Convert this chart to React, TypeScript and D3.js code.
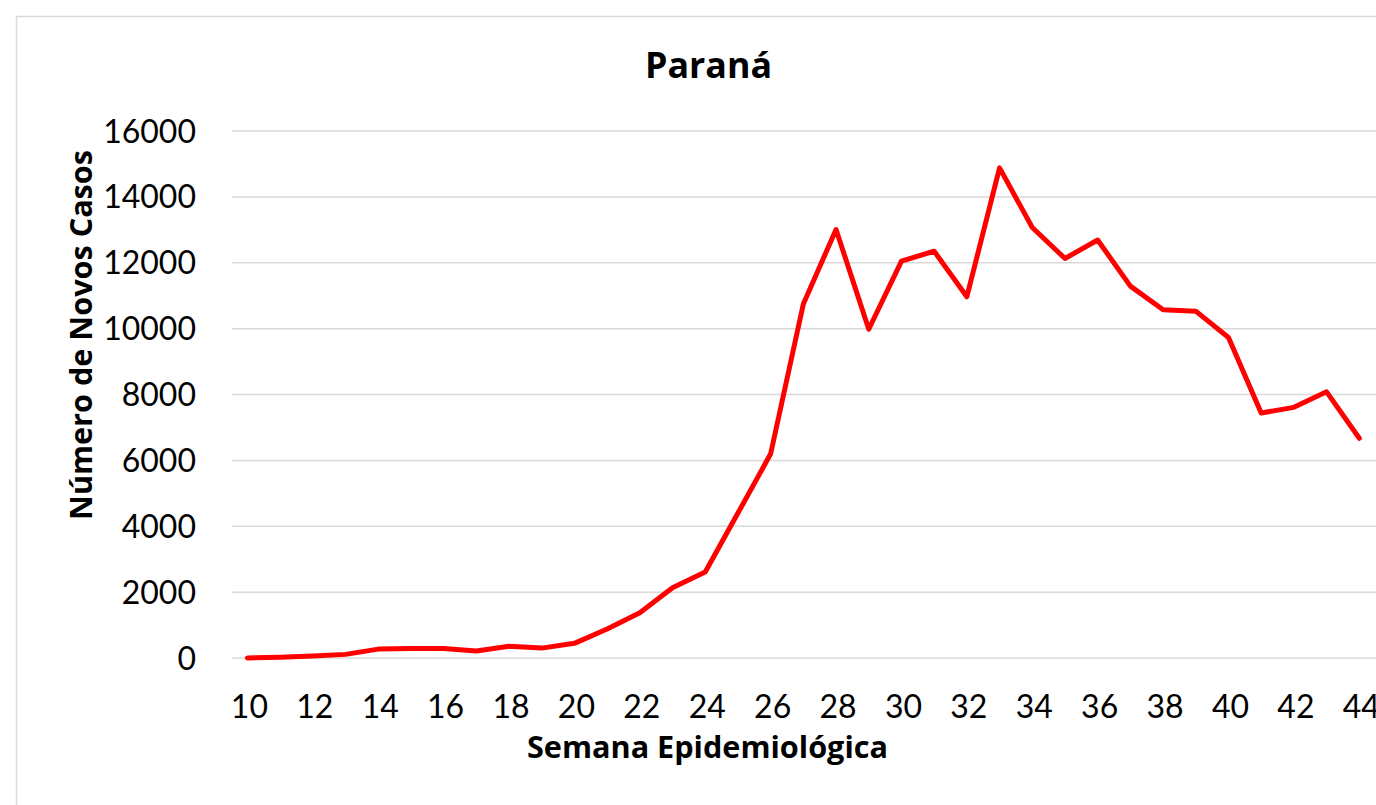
import React from "react";
import * as d3 from "d3";

const weeks = [10,11,12,13,14,15,16,17,18,19,20,21,22,23,24,25,26,27,28,29,30,31,32,33,34,35,36,37,38,39,40,41,42,43,44];
const cases = [0,20,60,110,270,285,285,210,355,300,445,880,1375,2135,2610,4400,6200,10750,13010,9980,12050,12350,10970,14880,13070,12130,12690,11290,10570,10530,9730,7440,7610,8080,6670];
const yTicks = [0,2000,4000,6000,8000,10000,12000,14000,16000];
const xTicks = [10,12,14,16,18,20,22,24,26,28,30,32,34,36,38,40,42,44];

const title = "Paraná";
const xTitle = "Semana Epidemiológica";
const yTitle = "Número de Novos Casos";

const W = 1376, H = 805;
const FONT = "Lato, 'Open Sans', sans-serif";
const BFONT = "'Open Sans', Lato, sans-serif";

export default function App() {
  const x = d3.scaleLinear().domain([10, 44]).range([247.4, 1359.3]);
  const y = d3.scaleLinear().domain([0, 16000]).range([658, 131]);
  const line = d3.line<number>()
    .x((_, i) => x(weeks[i]))
    .y((d) => y(d));
  return (
    <svg width={W} height={H} style={{ position: "absolute", left: 0, top: 0, background: "#fff" }}>
      <rect x={16.5} y={16.5} width={W + 10} height={H + 10} fill="#fff" stroke="#d9d9d9" strokeWidth={1.5} />
      {yTicks.map((t) => (
        <line key={"g" + t} x1={232} x2={W} y1={y(t)} y2={y(t)} stroke="#d9d9d9" strokeWidth={1.5} />
      ))}
      {yTicks.map((t) => (
        <text key={"yt" + t} x={196} y={y(t) + 11.5} textAnchor="end" fontFamily={FONT} fontSize={32} fill="#000">{t}</text>
      ))}
      {xTicks.map((t) => (
        <text key={"xt" + t} x={x(t) + 2} y={717.7} textAnchor="middle" fontFamily={FONT} fontSize={32} fill="#000">{t}</text>
      ))}
      <path d={line(cases) || ""} fill="none" stroke="#ff0000" strokeWidth={5} strokeLinejoin="round" strokeLinecap="round" />
      <text x={708.5} y={78.3} textAnchor="middle" fontFamily={BFONT} fontWeight={700} fontSize={35} textLength={127} lengthAdjust="spacingAndGlyphs" fill="#000">{title}</text>
      <text x={707.5} y={758} textAnchor="middle" fontFamily={BFONT} fontWeight={700} fontSize={29.5} textLength={361} lengthAdjust="spacingAndGlyphs" fill="#000">{xTitle}</text>
      <text transform={`translate(92,335) rotate(-90)`} textAnchor="middle" fontFamily={BFONT} fontWeight={700} fontSize={29.5} textLength={370} lengthAdjust="spacingAndGlyphs" fill="#000">{yTitle}</text>
    </svg>
  );
}
